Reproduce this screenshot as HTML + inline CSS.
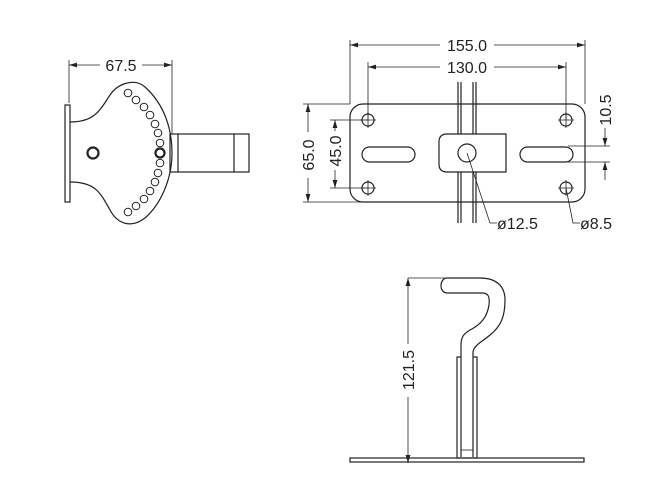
<!DOCTYPE html>
<html><head><style>body{margin:0;background:#fff}svg{display:block}text{font-family:"Liberation Sans",sans-serif;font-size:16px;fill:#222;stroke:none}</style></head><body>
<svg width="659" height="492" viewBox="0 0 659 492" fill="none" stroke="#222" stroke-width="1.2">
<defs><marker id="a" viewBox="0 0 10 6" refX="10" refY="3" markerWidth="10" markerHeight="6" orient="auto-start-reverse"><path d="M0,0 L10,3 L0,6 z" fill="#222" stroke="none"/></marker></defs>
<!-- left view -->
<line x1="69" y1="60" x2="69" y2="103" stroke-width="0.8"/>
<line x1="172" y1="60" x2="172" y2="134" stroke-width="0.8"/>
<line x1="69" y1="65" x2="100" y2="65" marker-start="url(#a)" stroke-width="0.8"/>
<line x1="142" y1="65" x2="172" y2="65" marker-end="url(#a)" stroke-width="0.8"/>
<text x="121" y="71" text-anchor="middle">67.5</text>
<rect x="65" y="105" width="5" height="97"/>
<path d="M70,122 C95,122 100,110 110,95 C118,83 135,78 145,87 C165,105 172,130 172,153 C172,180 160,205 145,218 C132,228 118,225 110,210 C100,192 95,182 70,182"/>
<circle cx="93" cy="153" r="5.5" stroke-width="2.2"/>
<circle cx="160" cy="153" r="4.5" stroke-width="2.2"/>
<g stroke-width="1">
<circle cx="128" cy="93" r="3.8"/><circle cx="136" cy="100" r="3.8"/><circle cx="144" cy="107" r="3.8"/><circle cx="150" cy="115" r="3.8"/><circle cx="155" cy="124" r="3.8"/><circle cx="158" cy="133" r="3.8"/><circle cx="160" cy="143" r="3.8"/>
<circle cx="160" cy="163" r="3.8"/><circle cx="158" cy="173" r="3.8"/><circle cx="155" cy="182" r="3.8"/><circle cx="150" cy="191" r="3.8"/><circle cx="144" cy="199" r="3.8"/><circle cx="136" cy="206" r="3.8"/><circle cx="128" cy="212" r="3.8"/>
</g>
<rect x="170" y="134" width="79" height="38"/>
<line x1="178" y1="134" x2="178" y2="172"/><line x1="234" y1="134" x2="234" y2="172"/>
<!-- plate view -->
<g stroke-width="0.8">
<line x1="350" y1="40" x2="350" y2="104"/><line x1="585" y1="40" x2="585" y2="104"/>
<line x1="350" y1="45" x2="440" y2="45" marker-start="url(#a)"/><line x1="494" y1="45" x2="585" y2="45" marker-end="url(#a)"/>
<line x1="368" y1="62" x2="368" y2="120"/><line x1="566" y1="62" x2="566" y2="120"/>
<line x1="368" y1="67" x2="440" y2="67" marker-start="url(#a)"/><line x1="494" y1="67" x2="566" y2="67" marker-end="url(#a)"/>
<line x1="303" y1="104" x2="350" y2="104"/><line x1="303" y1="202" x2="362" y2="202"/>
<line x1="308" y1="104" x2="308" y2="132" marker-start="url(#a)"/><line x1="308" y1="178" x2="308" y2="202" marker-end="url(#a)"/>
<line x1="330" y1="120" x2="368" y2="120"/><line x1="330" y1="188" x2="368" y2="188"/>
<line x1="335" y1="120" x2="335" y2="131" marker-start="url(#a)"/><line x1="335" y1="170" x2="335" y2="188" marker-end="url(#a)"/>
<line x1="568" y1="146" x2="610" y2="146"/><line x1="568" y1="162" x2="610" y2="162"/>
<line x1="605" y1="128" x2="605" y2="146" marker-end="url(#a)"/><line x1="605" y1="162" x2="605" y2="180" marker-start="url(#a)"/>
</g>
<text x="467" y="51" text-anchor="middle">155.0</text>
<text x="467" y="73" text-anchor="middle">130.0</text>
<text transform="translate(314,155) rotate(-90)" text-anchor="middle">65.0</text>
<text transform="translate(341,151) rotate(-90)" text-anchor="middle">45.0</text>
<text transform="translate(611,110) rotate(-90)" text-anchor="middle">10.5</text>
<rect x="350" y="104" width="235" height="98" rx="13"/>
<g>
<circle cx="368" cy="120" r="6"/><circle cx="566" cy="120" r="6"/><circle cx="368" cy="188" r="6"/><circle cx="566" cy="188" r="6"/>
<path d="M360,120h16M368,112v16M558,120h16M566,112v16M360,188h16M368,180v16M558,188h16M566,180v16" stroke-width="0.8"/>
</g>
<rect x="362" y="147" width="53" height="15" rx="7.5"/>
<rect x="520" y="147" width="53" height="15" rx="7.5"/>
<path d="M458,82V134M461,82V134M473,82V134M476,82V134M458,172V223M461,172V223M473,172V223M476,172V223"/>
<path d="M506,134H447Q439,134 439,142V164Q439,172 447,172H506Z" fill="#fff"/>
<circle cx="467" cy="153" r="9"/>
<path d="M467,153 L490,223 H497" stroke-width="0.8"/>
<path d="M566,188 L573,223 H580" stroke-width="0.8"/>
<text x="497" y="229">ø12.5</text>
<text x="580" y="229">ø8.5</text>
<!-- bottom view -->
<line x1="408" y1="278" x2="445" y2="278" stroke-width="0.8"/>
<line x1="408" y1="278" x2="408" y2="344" marker-start="url(#a)" stroke-width="0.8"/>
<line x1="408" y1="397" x2="408" y2="463" marker-end="url(#a)" stroke-width="0.8"/>
<text transform="translate(414,370) rotate(-90)" text-anchor="middle">121.5</text>
<rect x="350" y="458" width="234" height="4"/>
<rect x="457" y="357" width="20" height="101"/>
<path d="M473,457 L473,352 C474,345 482,342 490,335 C500,327 505,318 505,300 C505,285 495,278 480,278 L447,278 C440,278 438,292 447,293 L482,293 C488,293 490,296 489,305 C487,318 480,325 470,330 C463,334 461,338 461,345 L461,457" fill="#fff"/>
<line x1="461" y1="450" x2="473" y2="450" stroke-width="0.8"/>
</svg>
</body></html>
